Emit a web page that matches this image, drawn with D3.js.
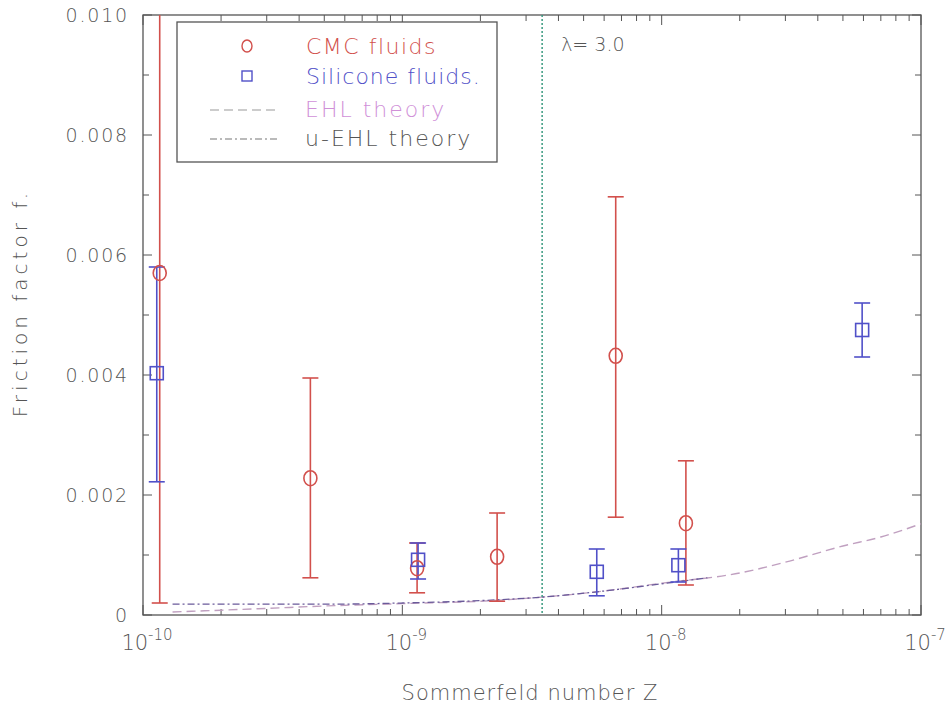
<!DOCTYPE html>
<html><head><meta charset="utf-8">
<script src="https://cdn.jsdelivr.net/npm/d3@7"></script>
<style>
body{margin:0;background:#fff;}
text{font-family:"DejaVu Sans","Liberation Sans",sans-serif;font-weight:200;}
</style></head>
<body><svg id="c" width="950" height="714"></svg>
<script>
// ---- data ----
const cmcZ    = [1.16e-10, 4.42e-10, 1.14e-9, 2.32e-9, 6.65e-9, 1.24e-8];
const cmcF    = [0.0057, 0.00228, 0.00078, 0.00097, 0.00432, 0.00153];
const cmcLo   = [0.0002, 0.00062, 0.00037, 0.00023, 0.00163, 0.0005];
const cmcHi   = [0.0120, 0.00395, 0.0012, 0.0017, 0.00697, 0.00257];

const silZ    = [1.13e-10, 1.15e-9, 5.62e-9, 1.16e-8, 5.93e-8];
const silF    = [0.00403, 0.00092, 0.00072, 0.00083, 0.00475];
const silLo   = [0.00222, 0.0006, 0.00032, 0.00055, 0.0043];
const silHi   = [0.0058, 0.0012, 0.0011, 0.0011, 0.0052];

const ehlZ    = [1.3e-10, 2e-10, 3e-10, 5e-10, 1e-9, 2e-9, 3.5e-9, 6e-9, 1e-8, 2e-8, 3e-8, 5e-8, 7e-8, 1e-7];
const ehlF    = [0.00005, 0.00008, 0.00011, 0.00015, 0.00019, 0.00023, 0.00030, 0.00040, 0.00053, 0.00070, 0.00088, 0.00115, 0.00130, 0.00152];

const uehlZ   = [1.3e-10, 2e-10, 3e-10, 5e-10, 1e-9, 2e-9, 3.5e-9, 6e-9, 1e-8, 1.5e-8];
const uehlF   = [0.00018, 0.00018, 0.00018, 0.00018, 0.00020, 0.00024, 0.00030, 0.00040, 0.00052, 0.00062];

const lambdaZ = 3.46e-9;
const lambdaLabel = "λ= 3.0";

const yTicks = [0, 0.002, 0.004, 0.006, 0.008, 0.010];
const yTickLabels = ["0", "0.002", "0.004", "0.006", "0.008", "0.010"];
const xTicks = [1e-10, 1e-9, 1e-8, 1e-7];
const xTickExp = ["-10", "-9", "-8", "-7"];

// ---- layout ----
const L = 143, R = 921, T = 15, B = 615;
const svg = d3.select("#c");
const x = d3.scaleLog().domain([1e-10, 1e-7]).range([L, R]);
const y = d3.scaleLinear().domain([0, 0.010]).range([B, T]);

const red = "#d2504c", blue = "#5050c8", frame = "#555", txt = "#555";

svg.append("defs").append("clipPath").attr("id","clip")
  .append("rect").attr("x",L).attr("y",T).attr("width",R-L).attr("height",B-T);

// frame
svg.append("rect").attr("x",L).attr("y",T).attr("width",R-L).attr("height",B-T)
  .attr("fill","none").attr("stroke",frame).attr("stroke-width",1.3);

// ticks (inward)
const g = svg.append("g");
const yMinor = d3.range(0, 0.0101, 0.001);
yMinor.forEach(v => {
  const major = yTicks.some(t => Math.abs(t - v) < 1e-9);
  const len = major ? 9 : 6;
  g.append("line").attr("x1",L).attr("x2",L+len).attr("y1",y(v)).attr("y2",y(v)).attr("stroke",frame);
  g.append("line").attr("x1",R).attr("x2",R-len).attr("y1",y(v)).attr("y2",y(v)).attr("stroke",frame);
});
const xMinor = [];
[-10,-9,-8].forEach(e => { for (let k=1;k<=9;k++) xMinor.push(k*Math.pow(10,e)); });
xMinor.push(1e-7);
xMinor.forEach(v => {
  const major = Math.abs(Math.log10(v) - Math.round(Math.log10(v))) < 1e-6;
  const len = major ? 10 : 6;
  g.append("line").attr("x1",x(v)).attr("x2",x(v)).attr("y1",B).attr("y2",B-len).attr("stroke",frame);
  g.append("line").attr("x1",x(v)).attr("x2",x(v)).attr("y1",T).attr("y2",T+len).attr("stroke",frame);
});

// tick labels
yTicks.forEach((v,i) => {
  svg.append("text").attr("x",L-14).attr("y",y(v)+7).attr("text-anchor","end")
    .attr("font-size",19).attr("letter-spacing",1.8).attr("fill",txt).text(yTickLabels[i]);
});
xTicks.forEach((v,i) => {
  const t = svg.append("text").attr("x",x(v)+4).attr("y",B+35).attr("text-anchor","middle")
    .attr("font-size",21).attr("fill",txt);
  t.append("tspan").text("10");
  t.append("tspan").attr("dy",-10).attr("font-size",15).text(xTickExp[i]);
});

// axis titles
svg.append("text").attr("x",530).attr("y",700).attr("text-anchor","middle")
  .attr("font-size",21).attr("letter-spacing",1).attr("fill",txt).text("Sommerfeld number Z");
svg.append("text").attr("transform","translate(27,303) rotate(-90)").attr("text-anchor","middle")
  .attr("font-size",20).attr("letter-spacing",4).attr("fill",txt).text("Friction factor f.");

const plot = svg.append("g").attr("clip-path","url(#clip)");

// theory lines
const line = d3.line().x(d=>x(d[0])).y(d=>y(d[1])).curve(d3.curveMonotoneX);
plot.append("path").datum(ehlZ.map((z,i)=>[z,ehlF[i]])).attr("d",line)
  .attr("fill","none").attr("stroke","#c0a0c0").attr("stroke-width",1.4).attr("stroke-dasharray","9,5");
plot.append("path").datum(uehlZ.map((z,i)=>[z,uehlF[i]])).attr("d",line)
  .attr("fill","none").attr("stroke","#6a5a9a").attr("stroke-width",1.3).attr("stroke-dasharray","7,3,2,3");

// lambda line
plot.append("line").attr("x1",x(lambdaZ)).attr("x2",x(lambdaZ)).attr("y1",T).attr("y2",B)
  .attr("stroke","#3a9a80").attr("stroke-width",1.5).attr("stroke-dasharray","2,2");
svg.append("text").attr("x",x(lambdaZ)+19).attr("y",T+36).attr("font-size",19).attr("fill",txt).text(lambdaLabel);

// error bars
function errbars(Z, Lo, Hi, col){
  Z.forEach((z,i)=>{
    const cx = x(z);
    plot.append("line").attr("x1",cx).attr("x2",cx).attr("y1",y(Lo[i])).attr("y2",y(Hi[i]))
      .attr("stroke",col).attr("stroke-width",1.6);
    [Lo[i],Hi[i]].forEach(v=>{
      plot.append("line").attr("x1",cx-8).attr("x2",cx+8).attr("y1",y(v)).attr("y2",y(v))
        .attr("stroke",col).attr("stroke-width",1.6);
    });
  });
}
errbars(cmcZ, cmcLo, cmcHi, red);
errbars(silZ, silLo, silHi, blue);

// markers
cmcZ.forEach((z,i)=>{
  plot.append("ellipse").attr("cx",x(z)).attr("cy",y(cmcF[i])).attr("rx",6.5).attr("ry",7.5)
    .attr("fill","none").attr("stroke",red).attr("stroke-width",1.6);
});
silZ.forEach((z,i)=>{
  plot.append("rect").attr("x",x(z)-6.5).attr("y",y(silF[i])-6.5).attr("width",13).attr("height",13)
    .attr("fill","none").attr("stroke",blue).attr("stroke-width",1.6);
});

// legend
const lg = svg.append("g");
lg.append("rect").attr("x",177).attr("y",22).attr("width",320).attr("height",140)
  .attr("fill","#fff").attr("stroke",frame).attr("stroke-width",1.3);
lg.append("ellipse").attr("cx",247).attr("cy",46).attr("rx",5).attr("ry",6)
  .attr("fill","none").attr("stroke",red).attr("stroke-width",1.4);
lg.append("text").attr("x",306).attr("y",54).attr("font-size",22).attr("letter-spacing",1.5).attr("fill",red).text("CMC fluids");
lg.append("rect").attr("x",242).attr("y",71).attr("width",10).attr("height",10)
  .attr("fill","none").attr("stroke",blue).attr("stroke-width",1.4);
lg.append("text").attr("x",306).attr("y",84).attr("font-size",22).attr("letter-spacing",1).attr("fill",blue).text("Silicone fluids.");
lg.append("line").attr("x1",210).attr("x2",280).attr("y1",110).attr("y2",110)
  .attr("stroke","#999").attr("stroke-width",1.2).attr("stroke-dasharray","9,5");
lg.append("text").attr("x",305).attr("y",117).attr("font-size",22).attr("fill","#d090d8").attr("letter-spacing",2).text("EHL theory");
lg.append("line").attr("x1",210).attr("x2",280).attr("y1",139).attr("y2",139)
  .attr("stroke","#777").attr("stroke-width",1.2).attr("stroke-dasharray","7,3,2,3");
lg.append("text").attr("x",305).attr("y",146).attr("font-size",22).attr("fill",txt).attr("letter-spacing",2).text("u-EHL theory");
</script></body></html>
